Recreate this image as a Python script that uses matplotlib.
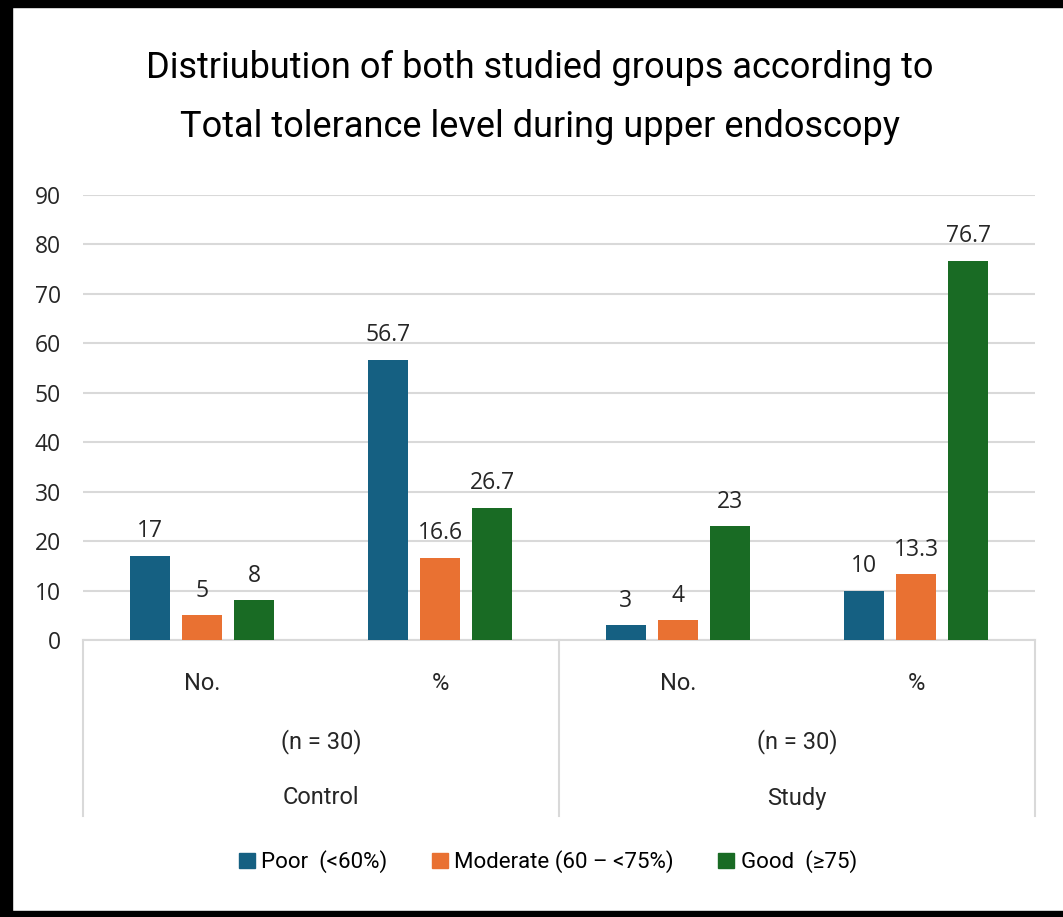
import matplotlib
matplotlib.use("Agg")
import matplotlib.pyplot as plt
import matplotlib.transforms as mtransforms
from matplotlib.lines import Line2D
from matplotlib.patches import Rectangle
import numpy as np

# Data
sub_labels = ["No.", "%", "No.", "%"]
group_n = ["(n = 30)", "(n = 30)"]
groups = ["Control", "Study"]
series_names = ["Poor  (<60%)", "Moderate (60 \u2013 <75%)", "Good  (\u226575)"]
poor = [17, 56.7, 3, 10]
moderate = [5, 16.6, 4, 13.3]
good = [8, 26.7, 23, 76.7]
colors = ["#156082", "#E97132", "#196B24"]
y_ticks = [0, 10, 20, 30, 40, 50, 60, 70, 80, 90]

W, H = 1063, 917
fig = plt.figure(figsize=(W / 100, H / 100), dpi=100)
fig.patch.set_facecolor("white")

narrow = ["Roboto", "DejaVu Sans"]
regular = ["Open Sans", "DejaVu Sans"]

ax = fig.add_axes([83 / W, 1 - 640 / H, (1035 - 83) / W, (640 - 195) / H])
x = np.arange(len(sub_labels))
width = 0.168
offset = 0.22
series = [poor, moderate, good]
for i, (vals, col, name) in enumerate(zip(series, colors, series_names)):
    bars = ax.bar(x + (i - 1) * offset, vals, width, color=col, label=name, zorder=3)
    for b, v in zip(bars, vals):
        ax.annotate(f"{v:g}", (b.get_x() + b.get_width() / 2, v),
                    xytext=(0, 9), textcoords="offset points",
                    ha="center", va="bottom", fontsize=16.5, family=regular, color="#262626")

ax.set_xlim(-0.5, 3.5)
ax.set_ylim(0, 90)
ax.set_yticks(y_ticks)
ax.set_yticklabels([str(t) for t in y_ticks], fontsize=16.5, family=regular, color="#262626")
ax.tick_params(axis="y", length=0, pad=16)
ax.set_xticks([])
for s in ["top", "right", "left"]:
    ax.spines[s].set_visible(False)
ax.spines["bottom"].set_color("#D9D9D9")
ax.spines["bottom"].set_linewidth(1.5)
ax.yaxis.grid(True, color="#D9D9D9", linewidth=1.5, zorder=0)
ax.set_axisbelow(True)

# Multi-level category axis
tr = mtransforms.blended_transform_factory(ax.transData, fig.transFigure)
y0 = 1 - 640 / H
y1 = 1 - 816 / H
for xv in [-0.5, 1.5, 3.5]:
    fig.add_artist(Line2D([xv, xv], [y0, y1], transform=tr, color="#D9D9D9", lw=1.5))
for xi, lab in zip(x, sub_labels):
    fig.text(xi, 1 - 684 / H, lab, transform=tr, ha="center", va="center",
             fontsize=17, family=narrow, color="#262626")
for gi, (nl, gl) in enumerate(zip(group_n, groups)):
    xc = 2 * gi + 0.5
    fig.text(xc, 1 - 742 / H, nl, transform=tr, ha="center", va="center",
             fontsize=17, family=narrow, color="#262626")
    fig.text(xc, 1 - 798 / H, gl, transform=tr, ha="center", va="center",
             fontsize=17, family=narrow, color="#262626")

# Title
fig.text(540 / W, 1 - 68 / H, "Distriubution of both studied groups according to",
         ha="center", va="center", fontsize=26, family=narrow, color="#000000")
fig.text(540 / W, 1 - 127 / H, "Total tolerance level during upper endoscopy",
         ha="center", va="center", fontsize=26, family=narrow, color="#000000")

# Legend
handles = [Rectangle((0, 0), 1, 1, color=c) for c in colors]
fig.legend(handles, series_names, loc="center", bbox_to_anchor=(548 / W, 1 - 862 / H),
           ncol=3, frameon=False, handlelength=0.7, handleheight=0.7,
           handletextpad=0.3, columnspacing=2.0, prop={"family": narrow, "size": 16})

# Frame around the figure
fig.add_artist(Rectangle((0, 1 - 7 / H), 1, 7 / H, transform=fig.transFigure, color="black"))
fig.add_artist(Rectangle((0, 0), 12 / W, 1, transform=fig.transFigure, color="black"))
fig.add_artist(Rectangle((0, 0), 1, 6 / H, transform=fig.transFigure, color="black"))

fig.savefig("out.png", dpi=100, facecolor="white")
